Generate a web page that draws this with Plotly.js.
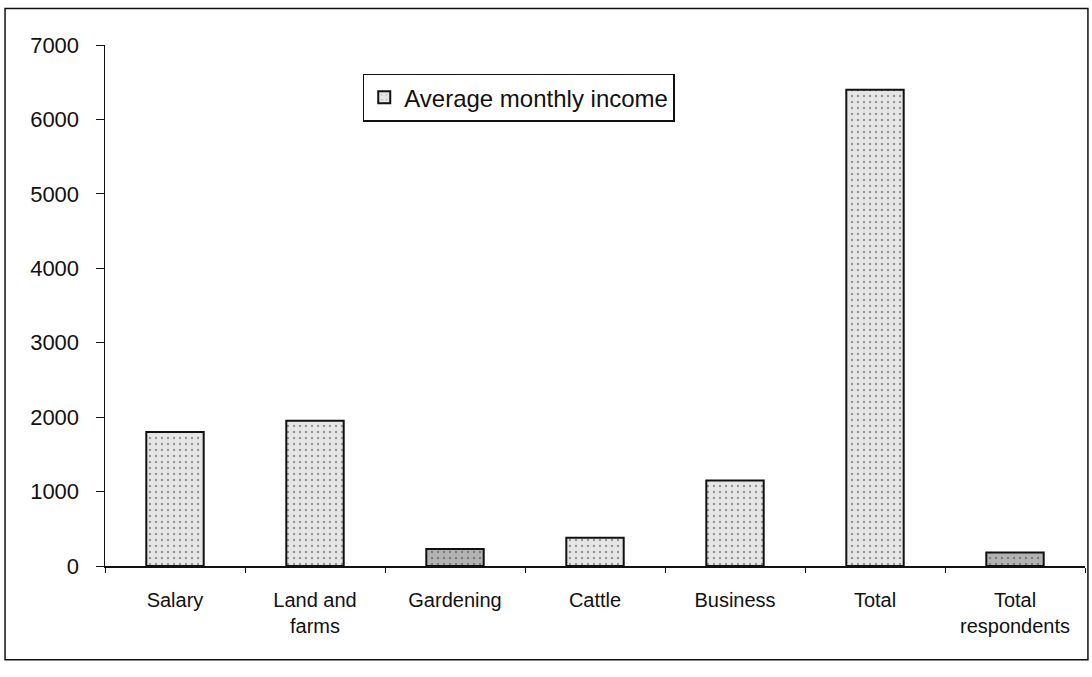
<!DOCTYPE html>
<html>
<head>
<meta charset="utf-8">
<script src="https://cdn.plot.ly/plotly-3.0.1.min.js"></script>
<style>html,body{margin:0;padding:0;background:#fff;}#chart{width:1092px;height:677px;}</style>
</head>
<body>
<div id="chart"></div>
<script>
const categories = ["Salary", "Land and<br>farms", "Gardening", "Cattle", "Business", "Total", "Total<br>respondents"];
const incomeValues = [1800, 1950, 230, 380, 1150, 6400, 180];
const seriesName = "Average monthly income";
const yTicks = [0, 1000, 2000, 3000, 4000, 5000, 6000, 7000];

const barColors = incomeValues.map(v => v < 300 ? "#b3b3b3" : "#e6e6e6");

const trace = {
  type: "bar",
  x: categories,
  y: incomeValues,
  name: seriesName,
  width: 0.41,
  marker: {
    color: barColors,
    line: {color: "#111", width: 2},
    pattern: {shape: ".", fillmode: "overlay", fgcolor: "#909090", size: 6, solidity: 0.12}
  },
  showlegend: true
};

const layout = {
  width: 1092,
  height: 677,
  margin: {l: 105, r: 7, t: 45, b: 111},
  paper_bgcolor: "#fff",
  plot_bgcolor: "#fff",
  font: {family: "Liberation Sans, Arial, sans-serif", color: "#111"},
  showlegend: true,
  legend: {
    x: 0.263, y: 0.945, xanchor: "left", yanchor: "top",
    bordercolor: "#111", borderwidth: 1.5, bgcolor: "#fff",
    font: {size: 24, family: "Liberation Sans, Arial, sans-serif"},
    itemwidth: 30
  },
  xaxis: {
    type: "category",
    showline: true, linecolor: "#111", linewidth: 1.5,
    ticks: "outside", ticklen: 5, tickcolor: "#111",
    tickson: "boundaries",
    tickfont: {size: 20},
    ticklabelstandoff: 15,
    showgrid: false, zeroline: false,
    range: [-0.5, 6.5]
  },
  yaxis: {
    range: [0, 7000],
    tickvals: yTicks,
    ticktext: yTicks.map(String),
    showline: true, linecolor: "#111", linewidth: 1.5,
    ticks: "outside", ticklen: 8, tickcolor: "#111",
    tickfont: {size: 22},
    ticklabelstandoff: 12,
    showgrid: false, zeroline: false
  },
  shapes: [{
    type: "rect", xref: "paper", yref: "paper",
    x0: -0.102, x1: 1.003, y0: -0.18, y1: 1.07,
    line: {color: "#111", width: 1.5}
  }]
};

Plotly.newPlot("chart", [trace], layout, {displayModeBar: false, staticPlot: true});
</script>
</body>
</html>
